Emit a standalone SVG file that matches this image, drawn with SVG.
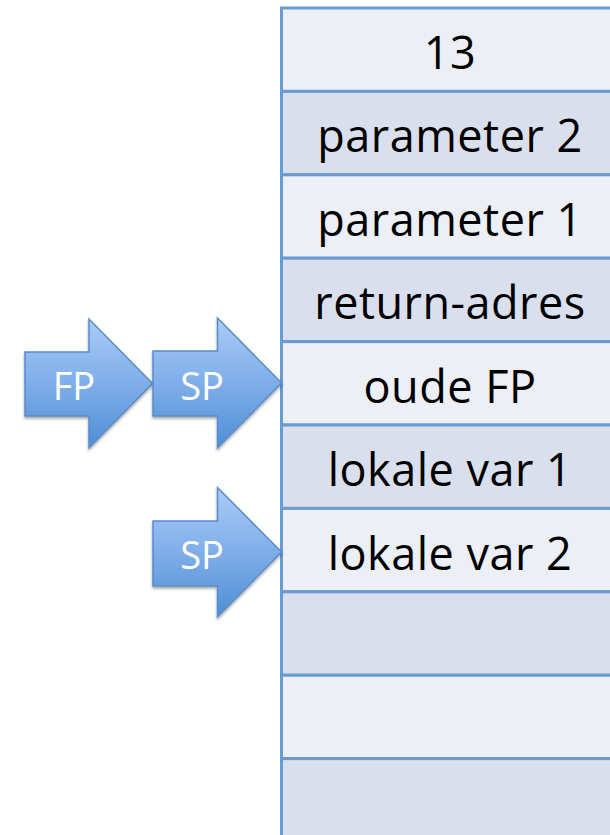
<svg xmlns="http://www.w3.org/2000/svg" width="610" height="835" viewBox="0 0 610 835">
  <defs>
    <linearGradient id="arrowFill" x1="0" y1="0" x2="0" y2="1">
      <stop offset="0" stop-color="#A9CBF7"/>
      <stop offset="0.5" stop-color="#7FAEE9"/>
      <stop offset="1" stop-color="#4F8ED6"/>
    </linearGradient>
    <filter id="shadow" x="-20%" y="-20%" width="140%" height="140%">
      <feGaussianBlur in="SourceAlpha" stdDeviation="1.5"/>
      <feOffset dx="0" dy="2" result="b"/>
      <feComponentTransfer><feFuncA type="linear" slope="0.35"/></feComponentTransfer>
      <feMerge><feMergeNode/><feMergeNode in="SourceGraphic"/></feMerge>
    </filter>
  </defs>
  <style>
    .rowA { fill: #ECEFF5; stroke: #6A9AD0; stroke-width: 3; }
    .rowB { fill: #D9DFEC; stroke: #6A9AD0; stroke-width: 3; }
    .cell { font-family: "Open Sans", "Liberation Sans", sans-serif; font-size: 45px; letter-spacing: 0.5px; fill: #000; text-anchor: middle; }
    .arrow { fill: url(#arrowFill); stroke: #5A8CC8; stroke-width: 1.5; filter: url(#shadow); }
    .ptr { font-family: "Open Sans", "Liberation Sans", sans-serif; font-size: 38px; fill: #fff; text-anchor: middle; }
  </style>

  <!-- stack cells -->
  <g id="cell-13"><rect class="rowA" x="281.5" y="8" width="345" height="83.4"/><text class="cell" x="450" y="69">13</text></g>
  <g id="cell-param2"><rect class="rowB" x="281.5" y="91.4" width="345" height="83.4"/><text class="cell" x="450" y="152">parameter 2</text></g>
  <g id="cell-param1"><rect class="rowA" x="281.5" y="174.8" width="345" height="83.4"/><text class="cell" x="450" y="235.5">parameter 1</text></g>
  <g id="cell-return"><rect class="rowB" x="281.5" y="258.2" width="345" height="83.4"/><text class="cell" x="450" y="319">return-adres</text></g>
  <g id="cell-oldfp"><rect class="rowA" x="281.5" y="341.6" width="345" height="83.4"/><text class="cell" x="450" y="402.5">oude FP</text></g>
  <g id="cell-local1"><rect class="rowB" x="281.5" y="425" width="345" height="83.4"/><text class="cell" x="450" y="486">lokale var 1</text></g>
  <g id="cell-local2"><rect class="rowA" x="281.5" y="508.4" width="345" height="83.4"/><text class="cell" x="450" y="569.5">lokale var 2</text></g>
  <g id="cell-empty1"><rect class="rowB" x="281.5" y="591.8" width="345" height="83.4"/></g>
  <g id="cell-empty2"><rect class="rowA" x="281.5" y="675.2" width="345" height="83.4"/></g>
  <g id="cell-empty3"><rect class="rowB" x="281.5" y="758.6" width="345" height="83.4"/></g>

  <!-- pointer arrows -->
  <g id="connectors">
    <g id="ptr-fp">
      <path class="arrow" d="M25,352 H89 V319 L152.5,383.5 L89,448 V416 H25 Z"/>
      <text class="ptr" x="74" y="399.5">FP</text>
    </g>
    <g id="ptr-sp-old">
      <path class="arrow" d="M153,351 H217.5 V318 L281.5,383 L217.5,448 V416 H153 Z"/>
      <text class="ptr" x="202" y="399.5">SP</text>
    </g>
    <g id="ptr-sp-new">
      <path class="arrow" d="M153,521 H217.5 V487.5 L281.5,552 L217.5,617 V586 H153 Z"/>
      <text class="ptr" x="202" y="568.5">SP</text>
    </g>
  </g>
</svg>
